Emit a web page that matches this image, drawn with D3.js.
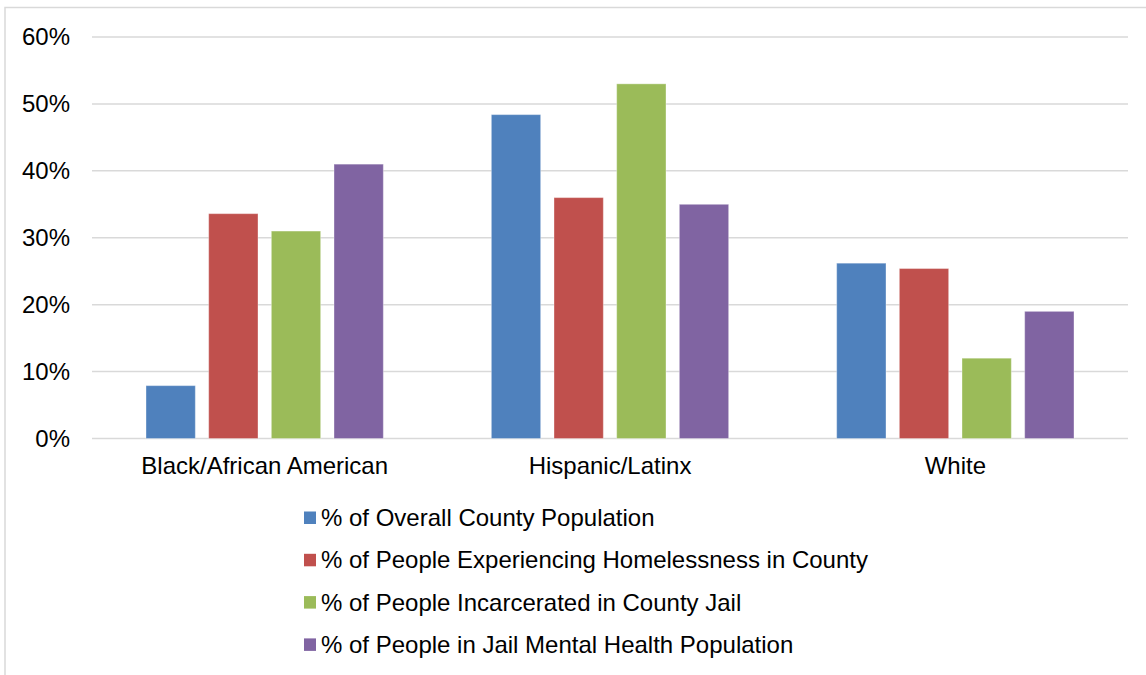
<!DOCTYPE html>
<html>
<head>
<meta charset="utf-8">
<script src="https://cdn.jsdelivr.net/npm/d3@7"></script>
<style>
  body { margin: 0; background: #fff; }
  text { font-family: "Liberation Sans", Arial, sans-serif; fill: #000; }
</style>
</head>
<body>
<div id="chart"></div>
<script>
// groups on the x axis
let categories = ["Black/African American", "Hispanic/Latinx", "White"];

let series_names = [
    "% of Overall County Population",
    "% of People Experiencing Homelessness in County",
    "% of People Incarcerated in County Jail",
    "% of People in Jail Mental Health Population"
];

// values in percent, one array per series (same order as categories)
let overall_pop   = [7.9, 48.4, 26.2];
let homeless      = [33.6, 36.0, 25.4];
let incarcerated  = [31.0, 53.0, 12.0];
let mental_health = [41.0, 35.0, 19.0];

let y_ticks = [0, 10, 20, 30, 40, 50, 60];

let bar_colors = ["#4f81bd", "#c0504d", "#9bbb59", "#8064a2"];

let all_series = [overall_pop, homeless, incarcerated, mental_health];

let w = 1146, h = 675;
let font_size = "24px";

let svg = d3.select("#chart").append("svg")
    .attr("width", w)
    .attr("height", h);

// light frame round the chart area (runs off the right/bottom edge)
svg.append("rect")
    .attr("x", 5).attr("y", 7.5)
    .attr("width", w + 10).attr("height", h + 10)
    .attr("fill", "none")
    .attr("stroke", "#d9d9d9")
    .attr("stroke-width", 1.5);

let plot = {left: 92, right: 1128, top: 37, bottom: 438.5};

let y = d3.scaleLinear().domain([0, 60]).range([plot.bottom, plot.top]);

let x0 = d3.scaleBand()
    .domain(categories)
    .range([plot.left, plot.right])
    .paddingInner(0.3128)
    .paddingOuter(0.1564);

let x1 = d3.scaleBand()
    .domain(d3.range(series_names.length))
    .range([0, x0.bandwidth()])
    .paddingInner(0.213)
    .paddingOuter(0);

// gridlines
svg.append("g").selectAll("line")
    .data(y_ticks)
    .enter().append("line")
    .attr("x1", plot.left).attr("x2", plot.right)
    .attr("y1", d => y(d)).attr("y2", d => y(d))
    .attr("stroke", "#d9d9d9")
    .attr("stroke-width", 1.5);

// y axis labels
let yAxis = d3.axisLeft(y)
    .tickValues(y_ticks)
    .tickFormat(d => d + "%")
    .tickSize(0)
    .tickPadding(22);

let yg = svg.append("g")
    .attr("transform", "translate(" + plot.left + ",0)")
    .call(yAxis);
yg.select(".domain").remove();
yg.selectAll("text")
    .style("font-size", font_size)
    .attr("fill", "#000")
    .attr("font-family", null);

// bars
let groups = svg.append("g").selectAll("g")
    .data(categories)
    .enter().append("g")
    .attr("transform", d => "translate(" + x0(d) + ",0)");

groups.selectAll("rect")
    .data((c, ci) => all_series.map((s, si) => ({series: si, value: s[ci]})))
    .enter().append("rect")
    .attr("x", d => x1(d.series))
    .attr("y", d => y(d.value))
    .attr("width", x1.bandwidth())
    .attr("height", d => y(0) - y(d.value))
    .attr("fill", d => bar_colors[d.series])
    .attr("stroke", "#fff")
    .attr("stroke-opacity", 0.35)
    .attr("stroke-width", 1);

// x axis labels
let xAxis = d3.axisBottom(x0).tickSize(0).tickPadding(18);
let xg = svg.append("g")
    .attr("transform", "translate(0," + plot.bottom + ")")
    .call(xAxis);
xg.select(".domain").remove();
xg.selectAll("text")
    .style("font-size", font_size)
    .attr("fill", "#000")
    .attr("font-family", null);

// legend
let legend = svg.append("g").selectAll("g")
    .data(series_names)
    .enter().append("g")
    .attr("transform", (d, i) => "translate(304," + (518 + i * 42.3) + ")");

legend.append("rect")
    .attr("x", 0).attr("y", -6.5)
    .attr("width", 12).attr("height", 12.5)
    .attr("fill", (d, i) => bar_colors[i]);

legend.append("text")
    .attr("x", 17)
    .attr("y", 8)
    .style("font-size", font_size)
    .text(d => d);
</script>
</body>
</html>
